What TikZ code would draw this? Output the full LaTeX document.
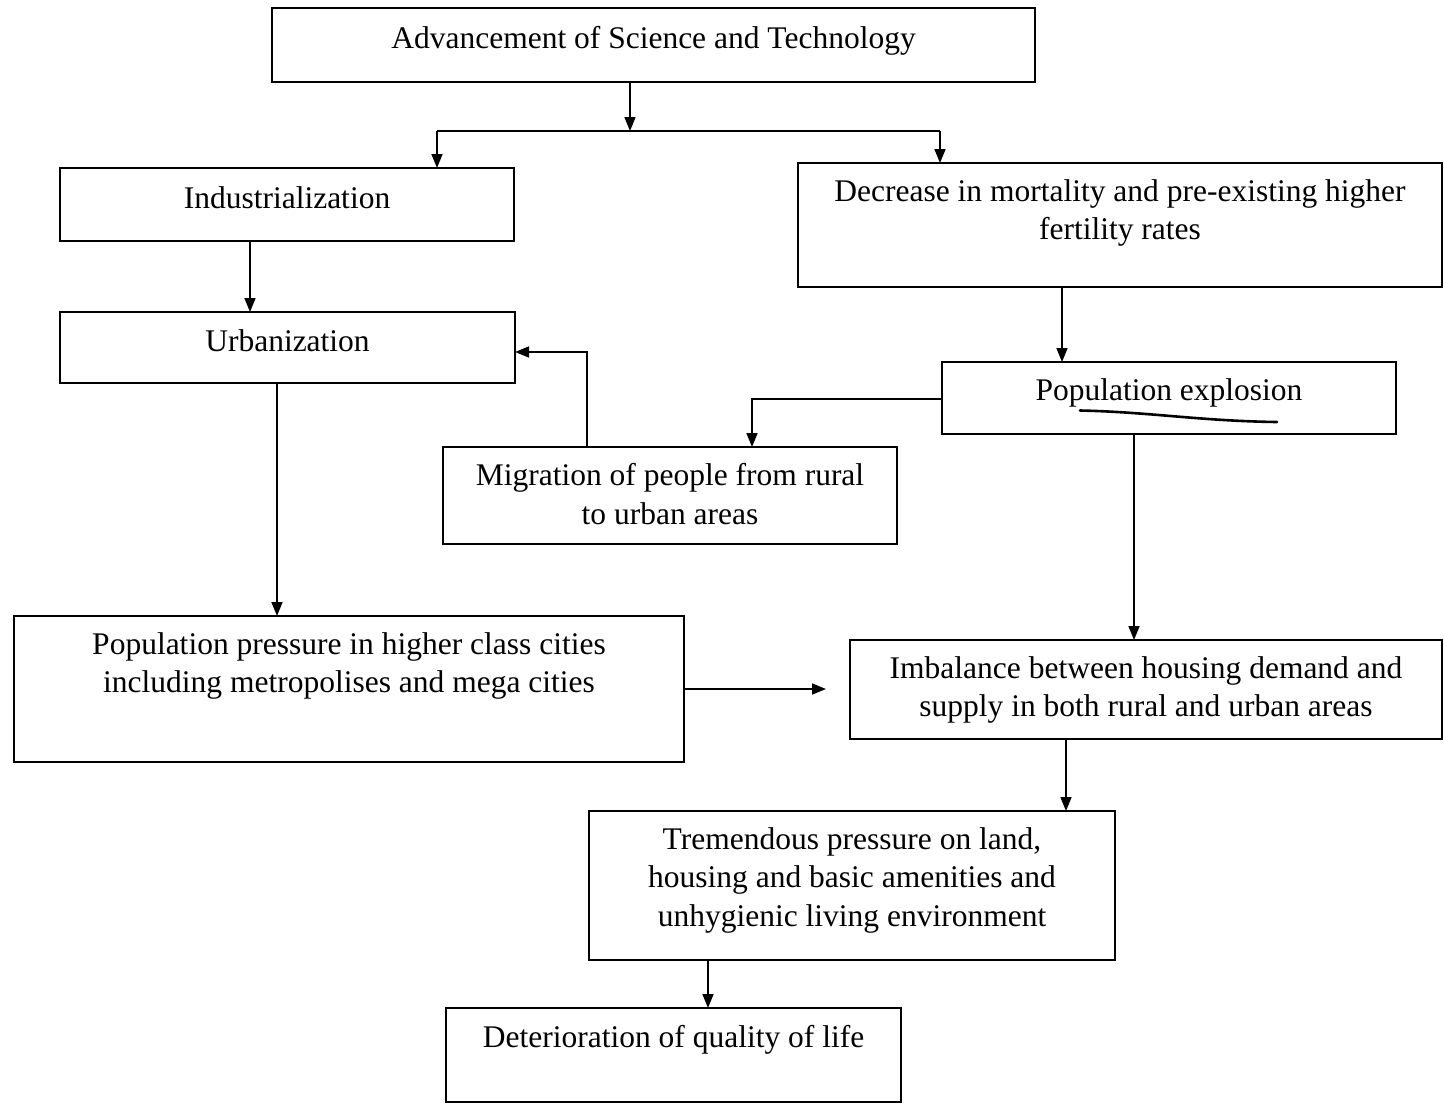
\documentclass[tikz,border=0pt]{standalone}
\usepackage{fontspec}
\setmainfont{Liberation Serif}
\usetikzlibrary{arrows.meta}
\newcommand\flowbox[5]{\node[flowbox, minimum width={#4pt-#2pt}, minimum height={#5pt-#3pt}] (#1) at (#2,#3) {};}
\begin{document}
\begin{tikzpicture}[x=1pt,y=-1pt,
  flowbox/.style={draw, line width=1.6pt, inner sep=0pt, outer sep=0pt, anchor=north west},
  lbl/.style={font=\fontsize{31.5}{38.5}\selectfont, align=center, inner sep=0pt},
  conn/.style={line width=1.6pt},
  arr/.style={conn, -{Triangle[length=14pt,width=11pt]}}]
\useasboundingbox (0,0) rectangle (1444,1104);
% boxes
\flowbox{b1}{272}{8}{1035}{82}
\flowbox{b2}{60}{168}{514}{241}
\flowbox{b3}{798}{163}{1442}{287}
\flowbox{b4}{60}{312}{515}{383}
\flowbox{b5}{942}{362}{1396}{434}
\flowbox{b6}{443}{447}{897}{544}
\flowbox{b7}{14}{616}{684}{762}
\flowbox{b8}{850}{640}{1442}{739}
\flowbox{b9}{589}{811}{1115}{960}
\flowbox{b10}{446}{1008}{901}{1102}
% labels
\node[lbl] (t1) at (b1.north |- 0,41) {Advancement of Science and Technology};
\node[lbl] (t2) at (b2.north |- 0,198) {Industrialization};
\node[lbl] (t3) at (b3.north |- 0,213) {Decrease in mortality and pre-existing higher\\fertility rates};
\node[lbl] (t4) at (b4.north |- 0,341) {Urbanization};
\node[lbl] (t5) at (b5.north |- 0,393) {Population explosion};
\node[lbl] (t6) at (b6.north |- 0,494) {Migration of people from rural\\to urban areas};
\node[lbl] (t7) at (b7.north |- 0,666) {Population pressure in higher class cities\\including metropolises and mega cities};
\node[lbl] (t8) at (b8.north |- 0,690) {Imbalance between housing demand and\\supply in both rural and urban areas};
\node[lbl] (t9) at (b9.north |- 0,880) {Tremendous pressure on land,\\housing and basic amenities and\\unhygienic living environment};
\node[lbl] (t10) at (b10.north |- 0,1040) {Deterioration of quality of life};
% handwritten underline
\draw[line width=2.6pt, line cap=round] (1080,410.5) .. controls (1150,412) and (1200,421) .. (1277,422);
% connectors
\coordinate (j1) at (630,131);
\coordinate (jL) at (437,131);
\coordinate (jR) at (940,131);
\draw[arr] (b1.south -| j1) -- (j1);
\draw[conn] (jL) -- (jR);
\draw[arr] (jL) -- (jL |- b2.north);
\draw[arr] (jR) -- (jR |- b3.north);
\draw[arr] (b2.south -| 250,0) -- (b4.north -| 250,0);
\draw[arr] (b3.south -| 1062,0) -- (b5.north -| 1062,0);
\draw[arr] (b5.west |- 0,399) -| (b6.north -| 752,0);
\draw[arr] (b6.north -| 587,0) |- (b4.east |- 0,352);
\draw[arr] (b4.south -| 277,0) -- (b7.north -| 277,0);
\draw[arr] (b5.south -| 1134,0) -- (b8.north -| 1134,0);
\coordinate (g) at (826,689);
\draw[arr] (b7.east |- g) -- (g);
\draw[arr] (b8.south -| 1066,0) -- (b9.north -| 1066,0);
\draw[arr] (b9.south -| 708,0) -- (b10.north -| 708,0);
\end{tikzpicture}
\end{document}
